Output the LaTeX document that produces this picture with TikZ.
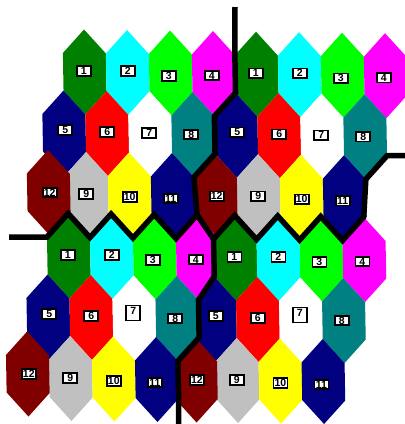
\documentclass[tikz,border=0pt]{standalone}
\usepackage{fontspec}
\setmainfont{Liberation Sans}
\usetikzlibrary{calc}

\definecolor{hgreen}{RGB}{0,128,0}
\definecolor{hcyan}{RGB}{0,255,255}
\definecolor{hlime}{RGB}{0,255,0}
\definecolor{hmagenta}{RGB}{255,0,255}
\definecolor{hnavy}{RGB}{0,0,128}
\definecolor{hred}{RGB}{255,0,0}
\definecolor{hteal}{RGB}{0,128,128}
\definecolor{hsilver}{RGB}{192,192,192}
\definecolor{hyellow}{RGB}{255,255,0}
\definecolor{hmaroon}{RGB}{128,0,0}

\tikzset{
  numbox/.style={draw=black, fill=white, line width=1.8pt, inner xsep=1pt,
    inner ysep=1pt, minimum width=14pt, text height=7.5pt, text depth=0pt,
    font=\fontsize{10.5}{10.5}\selectfont\bfseries},
  tallbox/.style={numbox, text depth=5.5pt, yshift=4pt},
  seam/.style={black, line width=5.5pt, line join=miter}
}

% one patch of twelve cells: name, shift x/y, shift of cell 12, box of cell 7
\newcommand{\drawpatch}[6]{%
  \foreach \lab/\ci/\ri/\col/\lx/\ly in {1/0/0/hgreen/-1/-1, 2/1/0/hcyan/0/-1.5,
      3/2/0/hlime/-2/3, 4/3/0/hmagenta/-2/2, 5/0/1/hnavy/1/-3, 6/1/1/hred/0/-1.5,
      7/2/1/white/-1/-1, 8/3/1/hteal/-2/0, 9/1/2/hsilver/-0.5/-0.5,
      10/2/2/hyellow/0/2, 11/3/2/hnavy/-2/3, 12/0/2/hmaroon/1/0}{
    \pgfmathsetmacro{\hx}{#2+84.7+43*\ci-20.5*\ri+(\lab==12)*(#4)}
    \pgfmathsetmacro{\hy}{#3+72+0.5*\ci+61*\ri+(\lab==12)*(#5)}
    \coordinate (#1-\lab) at (\hx,\hy);
    \foreach \v/\vx/\vy in {n/-0.67/-42.5, ne/21.17/-18.5, se/21.83/19,
        s/0.67/42.5, sw/-21.17/18.5, nw/-21.83/-19}
      \coordinate (#1-\lab-\v) at ($(#1-\lab)+(\vx,\vy)$);
    \fill[\col] (#1-\lab-n) -- (#1-\lab-ne) -- (#1-\lab-se) -- (#1-\lab-s)
      -- (#1-\lab-sw) -- (#1-\lab-nw) -- cycle;
    \ifnum\lab=7 \def\bx{#6}\else\def\bx{numbox}\fi
    \node[\bx] (#1-\lab-num) at ($(#1-\lab)+(\lx,\ly)$) {\lab};
  }%
}

\begin{document}
\begin{tikzpicture}[x=1pt, y=-1pt]
  \useasboundingbox (0,0) rectangle (405,424);

  \drawpatch{tl}{0}{0}{5}{-1.5}{numbox}
  \drawpatch{tr}{172}{2.2}{0}{0}{numbox}
  \drawpatch{bl}{-15.9}{184}{0}{-4}{tallbox}
  \begin{scope}
    \clip (213.6,200) -- (214.2,276.5) -- (bl-8-ne) -- (bl-8-se) -- (bl-11-ne)
      -- (bl-11-se) -- (178.6,440) -- (420,440) -- (420,200) -- cycle;
    \drawpatch{br}{150.7}{186}{1.5}{0}{tallbox}
  \end{scope}

  % borders between the patches
  \coordinate (topend) at (235,7);
  \coordinate (leftend) at (9,237);
  \coordinate (rightend) at (405,155.7);
  \coordinate (bottomend) at (178.6,424);
  \draw[seam] (topend) -- (tr-1-nw) -- (tr-1-sw) -- (tr-5-nw) -- (tr-5-sw)
    -- (tr-12-nw) -- (bl-4-n);
  \draw[seam] (leftend) -- (bl-1-nw) -- (bl-1-n) -- (bl-1-ne) -- (bl-2-n)
    -- (bl-2-ne) -- (bl-3-n) -- (bl-3-ne) -- (bl-4-n) -- (br-1-nw) -- (br-1-n)
    -- (br-1-ne) -- (br-2-n) -- (br-2-ne) -- (br-3-n) -- (br-3-ne) -- (br-4-n)
    -- (tr-11-ne) -- (tr-8-se) -- (rightend);
  \draw[seam] (br-1-nw) -- (br-1-sw) -- (bl-8-ne) -- (bl-8-se) -- (bl-11-ne)
    -- (bl-11-se) -- (bottomend);
\end{tikzpicture}
\end{document}
